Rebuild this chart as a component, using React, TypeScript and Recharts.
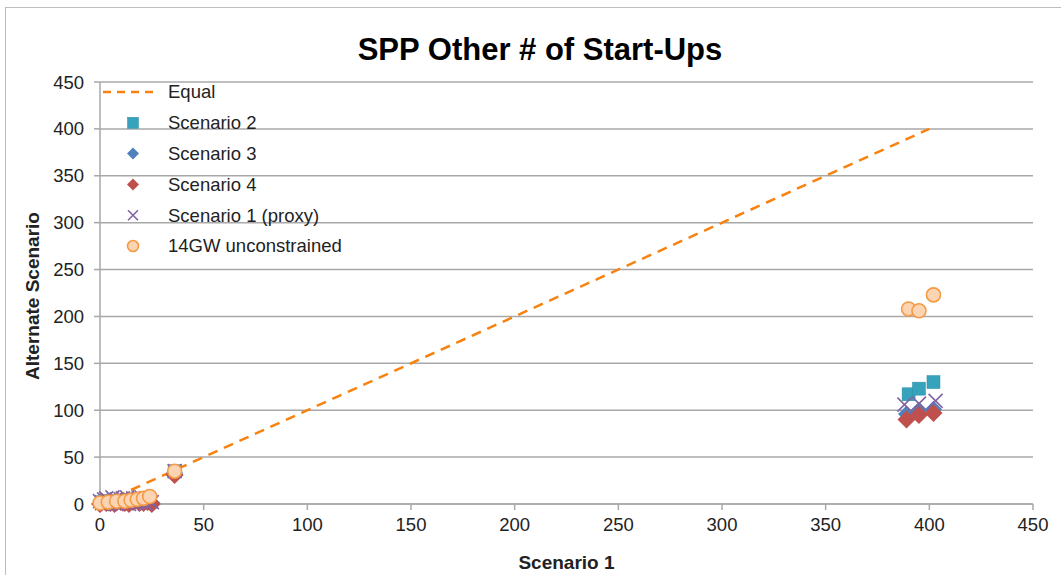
import React from 'react';
import {
    ScatterChart, Scatter, XAxis, YAxis, CartesianGrid, ReferenceLine,
} from 'recharts';

const AXIS_TICKS = [0, 50, 100, 150, 200, 250, 300, 350, 400, 450];

// [scenario 1, alternate scenario]
const scenario2: [number, number][] = [
    [1, 2], [5, 3], [9, 2], [14, 4], [19, 5], [23, 6], [36, 35],
    [390, 117], [395, 123], [402, 130],
];
const scenario3: [number, number][] = [
    [0, 0], [4, 1], [8, 1], [13, 2], [17, 3], [22, 3], [25, 1], [36, 33],
    [389, 96], [395, 100], [402, 101],
];
const scenario4: [number, number][] = [
    [0, 0], [1, 2], [3, 1], [5, 1], [7, 0], [10, 2], [12, 1], [14, 0], [16, 2], [19, 1], [21, 1], [23, 2], [25, 0],
    [36, 31], [389, 90], [395, 95], [402, 97],
];
const scenario1Proxy: [number, number][] = [
    [0, 3], [1, 1], [2, 5], [3, 6], [4, 0], [5, 2], [6, 7], [7, 4], [8, 0], [9, 2], [10, 5], [11, 6],
    [12, 3], [13, 7], [14, 0], [15, 2], [16, 6], [17, 4], [18, 1], [19, 5], [20, 7], [21, 3], [22, 0],
    [23, 6], [24, 3], [25, 2],
    [36, 35], [388, 106], [395, 107], [403, 110],
];
const unconstrained14GW: [number, number][] = [
    [0, 1], [4, 2], [8, 3], [12, 3], [15, 4], [18, 5], [21, 6], [24, 8], [36, 35],
    [390, 208], [395, 206], [402, 223],
];
const equalLine: [number, number][] = [[0, 0], [400, 400]];

const toPts = (arr: [number, number][]) => arr.map(([x, y]) => ({ x, y }));

const FONT = 'Liberation Sans, Arial, sans-serif';

const C = {
    equal: '#F7820F',
    s2: '#36A2BB',
    s3: '#4F81BD',
    s4: '#C0504D',
    s1: '#8064A2',
    gwFill: '#FBD4B4',
    gwStroke: '#F59A45',
    grid: '#A8A8A8',
    text: '#222',
};

const square = (half: number) => ({ cx, cy }: any) => (
    <rect x={cx - half} y={cy - half} width={half * 2} height={half * 2} fill={C.s2} stroke="#2B8FA8" strokeWidth={0.5} />
);
const diamond = (color: string, r: number) => ({ cx, cy }: any) => (
    <polygon points={`${cx},${cy - r} ${cx + r},${cy} ${cx},${cy + r} ${cx - r},${cy}`} fill={color} />
);
const cross = (r: number) => ({ cx, cy }: any) => (
    <g stroke={C.s1} strokeWidth={1.6}>
        <line x1={cx - r} y1={cy - r} x2={cx + r} y2={cy + r} />
        <line x1={cx - r} y1={cy + r} x2={cx + r} y2={cy - r} />
    </g>
);
const circle = (r: number) => ({ cx, cy }: any) => (
    <circle cx={cx} cy={cy} r={r} fill={C.gwFill} stroke={C.gwStroke} strokeWidth={1.6} />
);

const legendItems = [
    { name: 'Equal', icon: (cx: number, cy: number) => <line x1={cx - 30} y1={cy} x2={cx + 20} y2={cy} stroke={C.equal} strokeWidth={2.5} strokeDasharray="8 6" /> },
    { name: 'Scenario 2', icon: (cx: number, cy: number) => square(5.5)({ cx, cy }) },
    { name: 'Scenario 3', icon: (cx: number, cy: number) => diamond(C.s3, 6)({ cx, cy }) },
    { name: 'Scenario 4', icon: (cx: number, cy: number) => diamond(C.s4, 6)({ cx, cy }) },
    { name: 'Scenario 1 (proxy)', icon: (cx: number, cy: number) => cross(5)({ cx, cy }) },
    { name: '14GW unconstrained', icon: (cx: number, cy: number) => circle(5.5)({ cx, cy }) },
];

const LegendBox = () => (
    <svg width={280} height={190} style={{ position: 'absolute', left: 100, top: 80 }}>
        {legendItems.map((it, i) => {
            const cy = 12 + i * 30.8;
            return (
                <g key={it.name}>
                    {it.icon(33, cy)}
                    <text x={68} y={cy} dy="0.35em" fontSize={18.5} fill={C.text} fontFamily={FONT}>{it.name}</text>
                </g>
            );
        })}
    </svg>
);

const tick = { fill: C.text, fontSize: 18.5, fontFamily: FONT } as const;

export default function App() {
    return (
        <div style={{ position: 'absolute', left: 0, top: 0, width: 1061, height: 575, overflow: 'hidden', background: '#fff', fontFamily: FONT }}>
            <div style={{ position: 'absolute', left: 5, top: 7, width: 1100, height: 700, border: '1px solid #BDBDBD' }} />
            <div style={{ position: 'absolute', left: 0, width: 1080, top: 32, textAlign: 'center', fontSize: 31, fontWeight: 'bold', color: '#000' }}>
                SPP Other # of Start-Ups
            </div>
            <div style={{ position: 'absolute', left: 0, top: 0 }}>
                <ScatterChart width={1061} height={575} margin={{ top: 82, right: 28, left: 20, bottom: 6 }}>
                    <CartesianGrid vertical={false} stroke={C.grid} strokeWidth={1.5} />
                    <XAxis
                        type="number" dataKey="x" domain={[0, 450]} ticks={AXIS_TICKS} height={65}
                        tick={tick} tickLine={{ stroke: C.grid, strokeWidth: 1.5 }} tickSize={6} tickMargin={8}
                        axisLine={{ stroke: C.grid, strokeWidth: 1.5 }}
                        label={{ value: 'Scenario 1', position: 'insideBottom', offset: 0, fill: C.text, fontSize: 19, fontWeight: 'bold' }}
                    />
                    <YAxis
                        type="number" dataKey="y" domain={[0, 450]} ticks={AXIS_TICKS} width={80} interval={0}
                        tick={tick} tickLine={{ stroke: C.grid, strokeWidth: 1.5 }} tickSize={6} tickMargin={10}
                        axisLine={{ stroke: C.grid, strokeWidth: 1.5 }}
                        label={{
                            content: () => (
                                <text x={32} y={296} transform="rotate(-90 32 296)" textAnchor="middle" dy="0.35em"
                                    fontSize={19} fontWeight="bold" fill={C.text} fontFamily={FONT}>
                                    Alternate Scenario
                                </text>
                            ),
                        }}
                    />
                    <ReferenceLine
                        segment={toPts(equalLine)} stroke={C.equal} strokeWidth={2.5} strokeDasharray="10 7"
                    />
                    <Scatter name="Scenario 2" data={toPts(scenario2)} shape={square(6.5)} isAnimationActive={false} />
                    <Scatter name="Scenario 3" data={toPts(scenario3)} shape={diamond(C.s3, 8.5)} isAnimationActive={false} />
                    <Scatter name="Scenario 4" data={toPts(scenario4)} shape={diamond(C.s4, 9)} isAnimationActive={false} />
                    <Scatter name="Scenario 1 (proxy)" data={toPts(scenario1Proxy)} shape={cross(7)} isAnimationActive={false} />
                    <Scatter name="14GW unconstrained" data={toPts(unconstrained14GW)} shape={circle(7)} isAnimationActive={false} />
                </ScatterChart>
            </div>
            <LegendBox />
        </div>
    );
}
